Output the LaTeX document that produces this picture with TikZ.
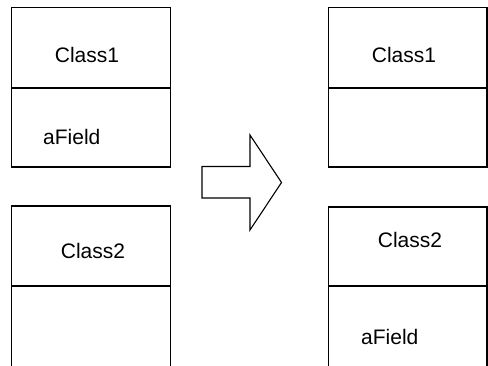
\documentclass[tikz,border=0pt]{standalone}
\usepackage{fontspec}
\setmainfont{Liberation Sans}
\begin{document}
\begin{tikzpicture}[x=1pt,y=-1pt,
  boxline/.style={draw=black,line width=1.1pt},
  divline/.style={draw=black,line width=1.5pt},
  lbl/.style={font=\fontsize{21}{24}\selectfont,inner sep=0pt}]
\useasboundingbox (0,0) rectangle (488,365);
\clip (0,0) rectangle (488,365);
% left Class1
\draw[boxline] (11.5,7.5) rectangle (170.5,167);
\draw[divline] (11.5,88) -- (170.5,88);
\node[lbl] (lc1) at (87,55) {Class1};
\node[lbl,anchor=west] (lf1) at (43,137) {aField};
% left Class2
\draw[boxline] (11.5,370) -- (11.5,206) -- (170.5,206) -- (170.5,370);
\draw[divline] (11.5,286) -- (170.5,286);
\node[lbl] (lc2) at (93,251) {Class2};
% arrow
\draw[boxline] (202,166.5) -- (250,166.5) -- (250,135) -- (281.5,182.5) -- (250,230) -- (250,198) -- (202,198) -- cycle;
% right Class1
\draw[boxline] (328.5,7.5) rectangle (487,167);
\draw[divline] (328.5,88) -- (487,88);
\node[lbl] (rc1) at (404,55) {Class1};
% right Class2
\draw[boxline] (328.5,370) -- (328.5,207) -- (487,207) -- (487,370);
\draw[divline] (328.5,286) -- (487,286);
\node[lbl] (rc2) at (410,240) {Class2};
\node[lbl,anchor=west] (rf2) at (361,337) {aField};
\end{tikzpicture}
\end{document}
